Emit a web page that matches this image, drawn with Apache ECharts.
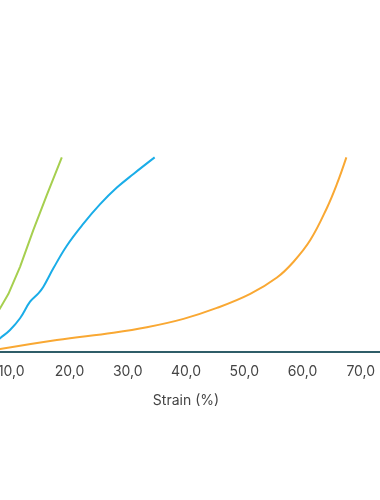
<!DOCTYPE html>
<html>
<head>
<meta charset="utf-8">
<script src="https://cdn.jsdelivr.net/npm/echarts@6/dist/echarts.min.js"></script>
<style>html,body{margin:0;padding:0;background:#fff;}#c{width:380px;height:500px;}</style>
</head>
<body>
<div id="c"></div>
<script>
var xTicks = [0, 10, 20, 30, 40, 50, 60, 70, 80];
var xName = 'Strain (%)';
var greenData = [[3.5,0],[8.08,22.4],[9.5,29.7],[11.51,43.7],[13.8,62.6],[16.1,80.5],[18.68,99.8]];
var blueData = [[5.5,0],[8.08,7.0],[9.79,11.3],[11.51,17.3],[13.23,25.8],[14.66,30.1],[15.52,33.5],[17.23,42.9],[19.54,54.5],[22.39,65.8],[25.26,75.8],[28.13,84.3],[30.98,91.3],[34.62,99.8]];
var orangeData = [[6.0,0],[8.08,1.5],[17.82,6.2],[27.54,9.9],[33.28,12.7],[39.57,17.0],[45.31,22.6],[51.03,29.8],[55.62,38.2],[58.47,46.3],[61.34,57.4],[64.21,74.0],[65.93,86.3],[67.53,99.8]];

var chart = echarts.init(document.getElementById('c'), null, {renderer:'canvas'});
chart.setOption({
  animation:false,
  grid:{left:-47, width:466, top:157, bottom:148, containLabel:false, outerBoundsMode:'none'},
  xAxis:{type:'value', min:xTicks[0], max:xTicks[xTicks.length-1], interval:10,
    name:xName, nameLocation:'middle', nameGap:42,
    nameTextStyle:{color:'#444', fontSize:14, fontFamily:'Inter'},
    axisLine:{show:true, lineStyle:{color:'#2f5d68', width:2}},
    axisTick:{show:false}, splitLine:{show:false},
    axisLabel:{color:'#444', fontSize:14, fontFamily:'Inter', margin:13, hideOverlap:false,
      formatter:function(v){return v.toFixed(1).replace('.',',');}}
  },
  yAxis:{type:'value', min:0, max:100, show:false, splitLine:{show:false}},
  series:[
    {type:'line', data:greenData, showSymbol:false, smooth:false, lineStyle:{color:'#a6cf4f', width:2}, itemStyle:{color:'#a6cf4f'}},
    {type:'line', data:blueData, showSymbol:false, smooth:0.4, lineStyle:{color:'#1aade8', width:2}, itemStyle:{color:'#1aade8'}},
    {type:'line', data:orangeData, showSymbol:false, smooth:0.4, lineStyle:{color:'#f9a833', width:2}, itemStyle:{color:'#f9a833'}}
  ]
});
</script>
</body>
</html>
